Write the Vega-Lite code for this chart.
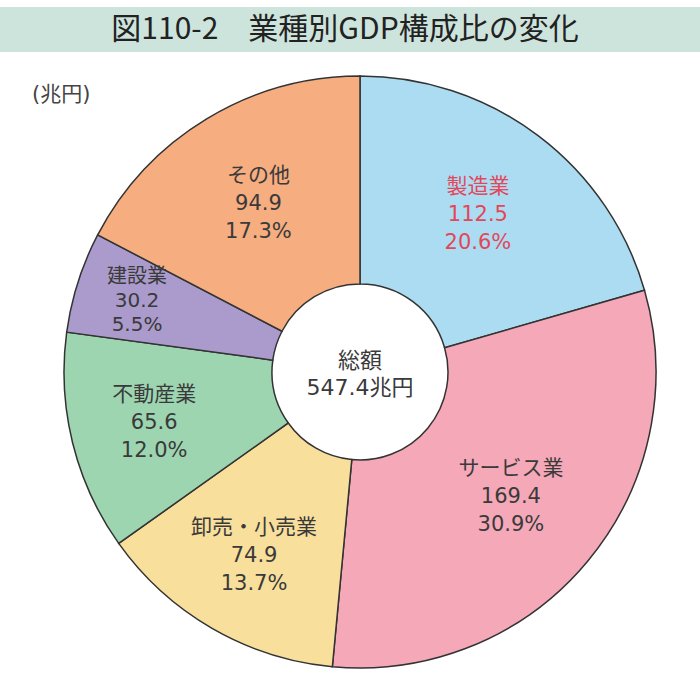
{
  "$schema": "https://vega.github.io/schema/vega-lite/v6.json",
  "padding": {"top": 7, "left": 0, "right": 0, "bottom": 0},
  "background": "white",
  "config": {
    "view": {"stroke": null},
    "font": "DejaVu Sans, Noto Sans CJK JP"
  },
  "bounds": "flush",
  "spacing": 18,
  "vconcat": [
    {
      "width": 700,
      "height": 45,
      "view": {"fill": "#cde4dc", "stroke": null},
      "data": {"values": [{"title": "図110-2　業種別GDP構成比の変化"}]},
      "mark": {"type": "text", "font": "Noto Sans CJK JP", "fontSize": 30, "color": "#222222", "dx": -5},
      "encoding": {"text": {"field": "title"}}
    },
    {
      "bounds": "flush",
      "spacing": 0,
      "hconcat": [
        {
          "width": 20,
          "height": 604,
          "data": {"values": [{}]},
          "mark": {"type": "point", "opacity": 0},
          "encoding": {}
        },
        {
          "width": 680,
          "height": 604,
          "title": {
            "text": "(兆円)",
            "anchor": "start",
            "frame": "group",
            "orient": "top",
            "offset": -35,
            "dx": 12,
            "fontSize": 21,
            "fontWeight": "normal",
            "color": "#444444",
            "font": "DejaVu Sans, Noto Sans CJK JP"
          },
          "data": {
            "values": [
              {"name": "製造業", "value": 112.5, "pct": 20.6, "idx": 1},
              {"name": "サービス業", "value": 169.4, "pct": 30.9, "idx": 2},
              {"name": "卸売・小売業", "value": 74.9, "pct": 13.7, "idx": 3},
              {"name": "不動産業", "value": 65.6, "pct": 12.0, "idx": 4},
              {"name": "建設業", "value": 30.2, "pct": 5.5, "idx": 5},
              {"name": "その他", "value": 94.9, "pct": 17.3, "idx": 6}
            ]
          },
          "transform": [
            {"calculate": "[datum.name, format(datum.value, '.1f'), format(datum.pct, '.1f') + '%']", "as": "label"}
          ],
          "layer": [
            {
              "mark": {"type": "arc", "radius": 296, "innerRadius": 88, "stroke": "#333333", "strokeWidth": 1.5},
              "encoding": {
                "theta": {"field": "value", "type": "quantitative", "stack": true},
                "order": {"field": "idx", "type": "quantitative"},
                "color": {
                  "field": "name",
                  "type": "nominal",
                  "scale": {
                    "domain": ["製造業", "サービス業", "卸売・小売業", "不動産業", "建設業", "その他"],
                    "range": ["#acdcf2", "#f5a8b8", "#f8df9c", "#9dd5b1", "#ab9bcc", "#f6ad80"]
                  },
                  "legend": null
                }
              }
            },
            {
              "mark": {"type": "text", "font": "DejaVu Sans, Noto Sans CJK JP", "radius": 196, "fontSize": 21, "lineHeight": 28, "baseline": "middle", "dy": -28},
              "encoding": {
                "theta": {"field": "value", "type": "quantitative", "stack": true},
                "order": {"field": "idx", "type": "quantitative"},
                "text": {"condition": {"test": "datum.idx === 1 || datum.idx === 2 || datum.idx === 6", "field": "label"}, "value": ""},
                "color": {
                  "condition": {"test": "datum.name === '製造業'", "value": "#e2475a"},
                  "value": "#3a3a3a"
                }
              }
            },
            {
              "mark": {"type": "text", "font": "DejaVu Sans, Noto Sans CJK JP", "radius": 212, "fontSize": 21, "lineHeight": 28, "baseline": "middle", "dy": -28, "color": "#3a3a3a"},
              "encoding": {
                "theta": {"field": "value", "type": "quantitative", "stack": true},
                "order": {"field": "idx", "type": "quantitative"},
                "text": {"condition": {"test": "datum.idx === 3 || datum.idx === 4", "field": "label"}, "value": ""}
              }
            },
            {
              "mark": {"type": "text", "font": "DejaVu Sans, Noto Sans CJK JP", "radius": 234, "fontSize": 20, "lineHeight": 24, "baseline": "middle", "dy": -24, "color": "#3a3a3a"},
              "encoding": {
                "theta": {"field": "value", "type": "quantitative", "stack": true},
                "order": {"field": "idx", "type": "quantitative"},
                "text": {"condition": {"test": "datum.idx === 5", "field": "label"}, "value": ""}
              }
            },
            {
              "data": {"values": [{"total": 547.4}]},
              "transform": [
                {"calculate": "['総額', format(datum.total, '.1f') + '兆円']", "as": "label"}
              ],
              "mark": {"type": "text", "font": "DejaVu Sans, Noto Sans CJK JP", "fontSize": 22, "lineHeight": 27, "baseline": "middle", "dy": -11, "color": "#3a3a3a"},
              "encoding": {"text": {"field": "label"}}
            }
          ]
        }
      ]
    }
  ]
}
